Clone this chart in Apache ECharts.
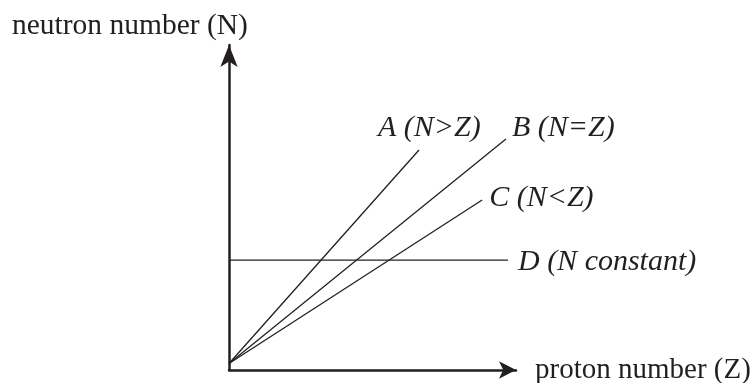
<!DOCTYPE html>
<html>
<head>
<meta charset="utf-8">
<script src="https://cdn.jsdelivr.net/npm/echarts@6/dist/echarts.min.js"></script>
<style>
  html, body { margin: 0; padding: 0; background: #fff; }
  #chart { width: 753px; height: 383px; }
</style>
</head>
<body>
<div id="chart"></div>
<script>
// schematic lines: [Z, N] start and end points
const lineNames = ["A (N>Z)", "B (N=Z)", "C (N<Z)", "D (N constant)"];
const lineA = [[0, 2], [66.2, 67.7]];
const lineB = [[0, 2], [96.5, 71.1]];
const lineC = [[0, 2], [88.2, 52.3]];
const lineD = [[0, 33.8], [97.2, 33.8]];
const yTitle = "neutron number (N)";
const xTitle = "proton number (Z)";

const ink = "#231f20";
const serif = "'Liberation Serif', 'Times New Roman', serif";

// label offsets from the end of each line
const labelOffsets = [[-49, -22], [-2, -11], [-1, -2], [2, 2]];

const chart = echarts.init(document.getElementById("chart"));

const makeLine = (name, data, i) => ({
  name,
  type: "line",
  data,
  clip: false,
  showSymbol: false,
  symbol: "none",
  lineStyle: { color: ink, width: 1.3 },
  endLabel: {
    show: true,
    formatter: name,
    offset: labelOffsets[i],
    color: ink,
    fontFamily: serif,
    fontStyle: "italic",
    fontSize: 30,
  },
});

chart.setOption({
  animation: false,
  title: {
    text: yTitle,
    left: 7,
    top: 6,
    textStyle: { color: ink, fontFamily: serif, fontWeight: "normal", fontSize: 29.5 },
  },
  grid: { left: 229, right: 237, top: 45, bottom: 13, outerBoundsMode: "none" },
  xAxis: {
    type: "value",
    min: 0,
    max: 100,
    name: xTitle,
    nameLocation: "end",
    nameGap: 19,
    nameTextStyle: { color: ink, fontFamily: serif, fontSize: 29 },
    axisLine: {
      lineStyle: { color: ink, width: 2.5 },
      symbol: ["none", "arrow"],
      symbolSize: [13, 17],
    },
    axisTick: { show: false },
    axisLabel: { show: false },
    splitLine: { show: false },
  },
  yAxis: {
    type: "value",
    min: 0,
    max: 100,
    axisLine: {
      show: true,
      lineStyle: { color: ink, width: 2.5 },
      symbol: ["none", "arrow"],
      symbolSize: [13, 22],
    },
    axisTick: { show: false },
    axisLabel: { show: false },
    splitLine: { show: false },
  },
  series: [
    makeLine(lineNames[0], lineA, 0),
    makeLine(lineNames[1], lineB, 1),
    makeLine(lineNames[2], lineC, 2),
    makeLine(lineNames[3], lineD, 3),
  ],
});
</script>
</body>
</html>
